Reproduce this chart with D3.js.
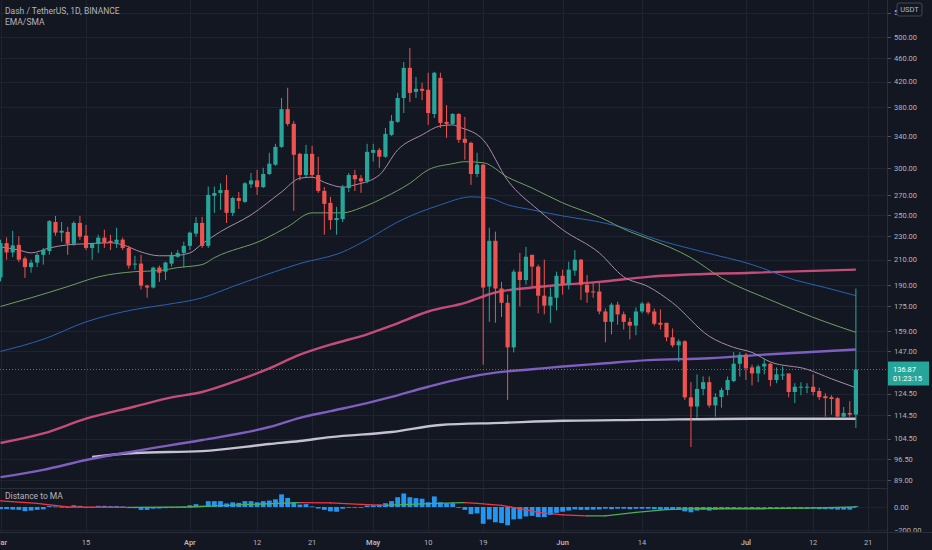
<!DOCTYPE html>
<html lang="en">
<head>
    <meta charset="UTF-8">
    <title>Dash / TetherUS, 1D, BINANCE</title>
    <script src="https://d3js.org/d3.v7.min.js"></script>
    <style>
        html, body { margin: 0; padding: 0; background: #131722; }
        svg { display: block; font-family: Roboto, "Noto Sans", sans-serif; }
    </style>
</head>
<body>
<div id="chart"></div>
<script>
    // Daily candles, first one is 1 Mar 2021, last one is 19 Jul 2021
    const startDay = Date.UTC(2021, 2, 1);
    const opens = [196,224,216,222.5,211,204,207.6,214,217.2,243.2,233.3,234,223.4,242.3,230.6,219.8,223.4,228.8,226,224.3,
        227,219.8,206,206.8,189.8,188.4,203.6,200.4,206.8,212.4,215.6,221.6,232.4,242.3,221.6,269.2,272.3,275.5,252,267,
        263,281.6,286,278.6,293.2,304,325.9,377.5,356.4,317.2,292,317.2,292,274.5,262,245,246,277.6,292,288.4,
        285,318.4,322,313.6,341.5,359.2,394.2,443.4,403.8,408.6,407,370.4,426.4,359.2,356.4,370.4,336.3,331.1,293.2,304,
        189.1,226,187.7,177.5,149.2,200.4,194,214,204.4,182.5,175.6,181,197.2,190.5,201.2,210,190.5,185.5,185.5,171.6,
        164.8,176.2,169.7,164.8,162.4,171.6,177,171.6,164.2,164.2,155.2,150.4,152.8,122.8,118.5,126.9,130.3,119,123,126.4,
        130.9,140,145,138,134.8,138.5,140,131.4,133.7,134.8,125.4,127.5,127.7,128,125.9,123.4,122.9,122.4,113.9,115.6,
        114.8];
    const highs = [227,229,235,230,212.5,210,215.6,219.8,245,249,243.2,238.7,244,249,240.5,224.3,231.5,236,231.5,237.8,
        228.8,221.6,213.2,214,190.5,204.4,205.2,208.4,216.4,218,225.2,234.2,248,248,279.2,279.2,282.8,292,268.2,273.4,
        283.9,294.4,298,300.4,318.4,329.8,394.2,410.2,360.6,318.4,328.5,327.2,313.6,278.6,268.2,258,281,294.4,298,292,
        329.8,329.8,324.6,350.8,369,402.2,453.6,478.8,428,418.2,435,436.6,435,383.5,371.8,371.8,366.2,332.4,318.4,305.2,
        237.8,234.2,192.6,183.2,202,215.6,220.6,214,206,210,188.4,200.4,202,208.4,218,210.5,197.8,192,192,173.6,
        177.5,178.2,171.6,167.4,174.3,178.2,178.2,173.6,173,164.2,160.6,154,153.4,130.3,134.3,133.2,133.2,124.8,127.5,133.2,
        146.5,146.5,145.9,139.5,139.5,142.6,140.5,138,138.5,134.8,129.8,130.3,129.8,134.3,127.5,124.8,123.8,122.9,118.3,121,
        187.7];
    const lows = [193,210,212,208,195.6,199.6,204,206,214,230.6,225.2,214,221.6,227,218,210,215.6,219.8,218,219.8,
        218,202.8,202,187,181,187.7,192.6,194,204.4,211.6,203.6,218,229.7,219.8,219.8,252,255,242.3,249,256,
        262,277.6,270.3,277.6,292,302.8,324.6,353.6,254,286,289.6,288.4,272.4,231.5,236,231.5,243.2,273.4,274.5,272.4,
        282.8,307.6,300.4,312.4,340.2,357.8,371.8,388,394.2,391,355,364.8,350.8,337.6,355,331.1,310,281,289.6,139.5,
        164.8,164.2,168,121.6,146.3,175,190.5,189.1,170.4,169.7,164.2,172.3,183.2,187,197.2,179.5,177.5,181,169.7,152.2,
        157,163,160,154,156.4,170.4,169.7,162.4,160,152.8,149.2,141,121.6,101.2,113.4,123.8,118,113.9,118,123.8,
        130.3,133.2,131.4,128.7,130.3,134.3,128.2,129.8,131.4,122.8,120.1,123.8,124.8,123.8,121.6,113.9,114.8,113.9,113.9,113.9,
        109];
    const closes = [224,216,222,210,204,207.6,214,218,244,233.3,235,223.4,242.3,229.7,219.8,223.4,228.8,224.3,224.3,227,
        219.8,205.2,206.8,189.8,188.4,203.6,199.6,207.6,214,215.6,221.6,233.3,242.3,221.6,270.3,272.3,275.5,252,267,264,
        282.8,286,278.6,293.2,305.2,325.9,377.5,356.4,316,292,317.2,292,274.5,261,245,247,278.6,292,287.2,285,
        319.6,322,313.6,342.8,360.6,394.2,443.4,402.2,408.6,405.4,371.8,435,357.8,356.4,370.4,335,331.1,293.2,304,188.4,
        226,187.7,177.5,149.2,200.4,194,212.4,204.4,182.5,175.6,181.8,197.2,190.5,202,210,190.5,184.8,184.8,171.6,164.8,
        176.2,169.7,164.8,162.4,171.6,177,171,163.6,163,155.2,150.4,152.8,122.8,118.5,126.9,130.3,119,123,126.4,131.4,
        140,145,137.5,134.8,138.5,140,131.4,134.3,134.3,125.4,128,128,128,125.4,122.9,122.4,122,113.9,115.6,114.8,
        136.87];

    // Moving averages as [day index, price]
    const maPink = [[0,220.7],[3,218],[5,215.6],[8,219.8],[11,222.5],[14,223.4],[18,224.3],[20,222.5],[23,216.4],[26,213.2],
        [28,213.2],[31,215.6],[33,223.4],[36,234.2],[41,250],[46,273.4],[49,288.4],[51,289.6],[53,283.8],[56,278.6],
        [58,281],[62,292],[65,322],[69,341.5],[72,353.6],[74,355],[75,352.2],[79,335],[83,286],[88,255],[92,236],
        [98,215.6],[102,196.4],[106,189.1],[110,177.5],[116,155.8],[120,149.2],[123,146.3],[126,141],[132,137],[136,132],[140,127.5]];
    const maGreen = [[0,175],[5,181],[11,189.1],[16,196.4],[22,200.4],[26,201.2],[29,203.6],[33,206],[35,211.6],[43,227],
        [47,238.7],[51,252],[56,252],[59,257],[63,268.2],[67,282.8],[70,298],[74,305.2],[76,307.6],[79,306.4],[83,289.6],
        [87,277.6],[92,262],[98,248],[103,234.2],[106,228],[113,211.6],[118,195.6],[126,179.5],[135,164.8],[140,158.2]];
    const maBlue = [[0,146.9],[7,154],[14,164.8],[22,173],[27,176.2],[33,181],[38,189.1],[41,194],[49,206.8],[56,216.4],
        [60,227],[65,243.2],[72,260],[77,268.2],[80,267],[83,260],[87,255],[92,249],[98,243.2],[103,236],[106,229.7],
        [115,216.4],[123,206],[130,194],[135,188.4],[140,182.5]];
    const maCrimson = [[0,102.8],[7,106.7],[14,113],[22,118.5],[28,122.8],[33,125.4],[38,130.3],[44,137.5],[49,145],[54,150.8],
        [60,157],[64,162.4],[70,171.6],[76,177.5],[81,184.8],[87,188.4],[92,190.5],[98,192.6],[106,196.4],[123,199.6],[140,202]];
    const maPurple = [[0,90],[7,92.6],[14,96.2],[22,99.6],[33,104],[44,109.4],[49,113.4],[54,116.4],[60,120.1],[64,123],
        [70,128],[76,132.5],[81,135.2],[87,137],[92,138.5],[98,140],[106,142],[116,143],[126,145.3],[140,148]];
    const maGrey = [[15,97.4],[22,98.9],[33,99.6],[44,102.4],[49,103.6],[54,105.2],[64,107.3],[72,110.3],[82,111.2],[92,112.1],
        [105,112.5],[123,113],[140,113]];

    // Distance to MA pane: histogram per candle and its smoothed line
    const distance = [-18,-18,-23,-25,-36,-31,-25,-21,8,5,2,-2,15,10,-5,-5,10,10,8,8,
        5,-10,-10,-25,-25,-15,-13,-10,-5,-3,2,15,25,10,51,51,51,31,41,36,
        51,51,41,51,56,67,110,79,41,21,25,5,-13,-25,-38,-41,-15,-3,-3,-3,
        13,15,21,33,51,85,118,85,77,72,41,92,41,33,33,-5,-25,-62,-56,-146,
        -108,-133,-139,-159,-108,-103,-82,-77,-87,-87,-69,-51,-41,-31,-21,-25,-25,-23,-21,-15,
        -19,-15,-15,-19,-15,-15,-15,-19,-23,-23,-23,-23,-38,-46,-31,-23,-31,-23,-19,-15,
        -8,-4,-8,-12,-8,-4,-12,-8,-8,-15,-15,-15,-15,-15,-19,-19,-19,-23,-23,-23,
        8];
    const distanceAvg = [[0,54],[6,31],[11,0],[21,-4],[31,0],[41,23],[49,38],[54,35],[59,23],[63,15],[69,27],[74,35],
        [76,38],[78,31],[82,15],[85,-15],[88,-46],[92,-69],[96,-77],[99,-77],[104,-46],[109,-23],[114,-15],[125,-15],
        [132,-10],[140,0]];

    // Axis ticks
    const priceTicks = [550,500,460,420,380,340,300,270,250,230,210,190,175,159,147,124.5,114.5,104.5,96.5,89];
    const distTicks = [0, -200];
    const timeTicks = ["2021-03-01","2021-03-15","2021-04-01","2021-04-12","2021-04-21","2021-05-01","2021-05-10",
        "2021-05-19","2021-06-01","2021-06-14","2021-07-01","2021-07-12","2021-07-21"];
    const timeLabels = ["Mar","15","Apr","12","21","May","10","19","Jun","14","Jul","12","21"];
    const lastPrice = 136.87, countdown = "01:23:15";

    // Layout
    const W = 932, H = 550, plotW = 887, paneSplit = 488, timeTop = 532;
    const bg = "#131722", gridCol = "#1f2330", lineCol = "#2a2e39", textCol = "#b2b5be";
    const up = "#26a69a", down = "#ef5350";
    const dayMs = 86400000;

    const candles = opens.map((o, i) => ({
        date: new Date(startDay + i * dayMs), open: o, high: highs[i], low: lows[i], close: closes[i], dist: distance[i]
    }));

    const x = d3.scaleUtc()
        .domain([new Date(startDay), new Date(Date.UTC(2021, 6, 21))])
        .range([0.5, 0.5 + 6.11 * 142]);
    const y = d3.scaleLog().domain([89, 500]).range([480, 37]);
    const yd = d3.scaleLinear().domain([-200, 0]).range([530, 507]);
    const dayX = i => x(new Date(startDay + i * dayMs));

    const svg = d3.select("#chart").append("svg")
        .attr("width", W).attr("height", H);
    svg.append("rect").attr("width", W).attr("height", H).attr("fill", bg);

    const defs = svg.append("defs");
    defs.append("clipPath").attr("id", "mainClip")
        .append("rect").attr("width", plotW).attr("height", paneSplit);
    defs.append("clipPath").attr("id", "lowClip")
        .append("rect").attr("y", paneSplit).attr("width", plotW).attr("height", timeTop - paneSplit);

    // Grid
    const grid = svg.append("g");
    grid.selectAll(".hg").data(priceTicks).join("line")
        .attr("x1", 0).attr("x2", plotW)
        .attr("y1", d => Math.round(y(d)) + 0.5).attr("y2", d => Math.round(y(d)) + 0.5)
        .attr("stroke", gridCol);
    grid.selectAll(".hd").data(distTicks).join("line")
        .attr("x1", 0).attr("x2", plotW)
        .attr("y1", d => Math.round(yd(d)) + 0.5).attr("y2", d => Math.round(yd(d)) + 0.5)
        .attr("stroke", gridCol);
    grid.selectAll(".vg").data(timeTicks).join("line")
        .attr("x1", d => Math.round(x(new Date(d))) + 0.5).attr("x2", d => Math.round(x(new Date(d))) + 0.5)
        .attr("y1", 0).attr("y2", timeTop)
        .attr("stroke", gridCol);

    // Title
    svg.append("text").attr("x", 5).attr("y", 14).attr("fill", textCol).attr("font-size", 8.5)
        .text("Dash / TetherUS, 1D, BINANCE");
    svg.append("text").attr("x", 5).attr("y", 25).attr("fill", textCol).attr("font-size", 8.5)
        .text("EMA/SMA");

    const main = svg.append("g").attr("clip-path", "url(#mainClip)");

    // Moving average lines
    const maLine = d3.line().x(d => dayX(d[0])).y(d => y(d[1])).curve(d3.curveMonotoneX);
    const maStyles = [
        [maGrey, "#c4c1d3", 2.4],
        [maPurple, "#7e5fc0", 2.4],
        [maCrimson, "#c44c78", 2.4],
        [maBlue, "#2a62b0", 1],
        [maGreen, "#6f9f62", 1],
        [maPink, "#a98aa9", 1]
    ];
    maStyles.forEach(([data, color, w]) => {
        main.append("path").datum(data)
            .attr("d", maLine).attr("fill", "none")
            .attr("stroke", color).attr("stroke-width", w);
    });

    // Current price line
    main.append("line")
        .attr("x1", 0).attr("x2", plotW)
        .attr("y1", y(lastPrice)).attr("y2", y(lastPrice))
        .attr("stroke", up).attr("stroke-dasharray", "1,2").attr("opacity", 0.8);

    // Candles
    const bodyW = 4.2;
    const candle = main.selectAll(".candle").data(candles).join("g");
    candle.append("line")
        .attr("x1", d => x(d.date)).attr("x2", d => x(d.date))
        .attr("y1", d => y(d.high)).attr("y2", d => y(d.low))
        .attr("stroke", d => d.close >= d.open ? up : down).attr("stroke-width", 1);
    candle.append("rect")
        .attr("x", d => x(d.date) - bodyW / 2).attr("width", bodyW)
        .attr("y", d => y(Math.max(d.open, d.close)))
        .attr("height", d => Math.max(1, Math.abs(y(d.open) - y(d.close))))
        .attr("fill", d => d.close >= d.open ? up : down);

    // Lower pane: Distance to MA
    const low = svg.append("g").attr("clip-path", "url(#lowClip)");
    low.selectAll("rect").data(candles).join("rect")
        .attr("x", d => x(d.date) - 2.4).attr("width", 4.8)
        .attr("y", d => Math.min(yd(d.dist), yd(0)))
        .attr("height", d => Math.max(0.8, Math.abs(yd(d.dist) - yd(0))))
        .attr("fill", "#2196f3");
    // smoothed line, green while rising and red while falling
    const avgSegs = d3.pairs(distanceAvg);
    low.selectAll(".seg").data(avgSegs).join("line")
        .attr("x1", d => dayX(d[0][0])).attr("y1", d => yd(d[0][1]))
        .attr("x2", d => dayX(d[1][0])).attr("y2", d => yd(d[1][1]))
        .attr("stroke", d => d[1][1] >= d[0][1] ? "#4caf50" : "#f23645")
        .attr("stroke-width", 1.3).attr("stroke-linecap", "round");
    svg.append("text").attr("x", 5).attr("y", 499).attr("fill", textCol).attr("font-size", 8.5)
        .text("Distance to MA");

    // Price axis
    const axis = svg.append("g");
    axis.selectAll(".pt").data(priceTicks).join("text")
        .attr("x", 894).attr("y", d => y(d)).attr("dy", "0.35em")
        .attr("fill", textCol).attr("font-size", 7.5)
        .text(d => d3.format(".2f")(d));
    axis.selectAll(".dt").data(distTicks).join("text")
        .attr("x", 894).attr("y", d => yd(d)).attr("dy", "0.35em")
        .attr("fill", textCol).attr("font-size", 7.5)
        .text(d => d3.format(".2f")(d).replace("-", "\u2212"));

    // Currency badge
    svg.append("rect").attr("x", 897).attr("y", 3).attr("width", 25).attr("height", 13).attr("rx", 2)
        .attr("fill", bg).attr("stroke", "#434651");
    svg.append("text").attr("x", 909.5).attr("y", 9.5).attr("dy", "0.35em").attr("text-anchor", "middle")
        .attr("fill", textCol).attr("font-size", 7.5).text("USDT");

    // Last price tag
    const ly = y(lastPrice);
    svg.append("rect").attr("x", 888).attr("y", ly - 8).attr("width", 41).attr("height", 24).attr("fill", up);
    svg.append("text").attr("x", 893).attr("y", ly).attr("dy", "0.35em")
        .attr("fill", "#fff").attr("font-size", 7.5).text(d3.format(".2f")(lastPrice));
    svg.append("text").attr("x", 893).attr("y", ly + 9).attr("dy", "0.35em")
        .attr("fill", "#fff").attr("font-size", 7.5).text(countdown);

    // Time axis
    svg.append("rect").attr("y", timeTop).attr("width", W).attr("height", H - timeTop).attr("fill", bg);
    svg.selectAll(".tl").data(timeTicks).join("text")
        .attr("x", d => x(new Date(d))).attr("y", 542).attr("dy", "0.35em")
        .attr("text-anchor", "middle").attr("fill", textCol).attr("font-size", 7.5)
        .attr("font-weight", (d, i) => isNaN(+timeLabels[i]) ? 600 : 400)
        .text((d, i) => timeLabels[i]);

    // Pane borders
    const borders = [[0, paneSplit + 0.5, plotW, paneSplit + 0.5], [0, timeTop + 0.5, W, timeTop + 0.5],
        [plotW + 0.5, 0, plotW + 0.5, H]];
    svg.selectAll(".border").data(borders).join("line")
        .attr("x1", d => d[0]).attr("y1", d => d[1]).attr("x2", d => d[2]).attr("y2", d => d[3])
        .attr("stroke", lineCol);
    // small ticks on the price axis
    axis.selectAll(".tk").data(priceTicks).join("line")
        .attr("x1", plotW).attr("x2", plotW + 4)
        .attr("y1", d => Math.round(y(d)) + 0.5).attr("y2", d => Math.round(y(d)) + 0.5)
        .attr("stroke", "#50535e");
</script>
</body>
</html>
